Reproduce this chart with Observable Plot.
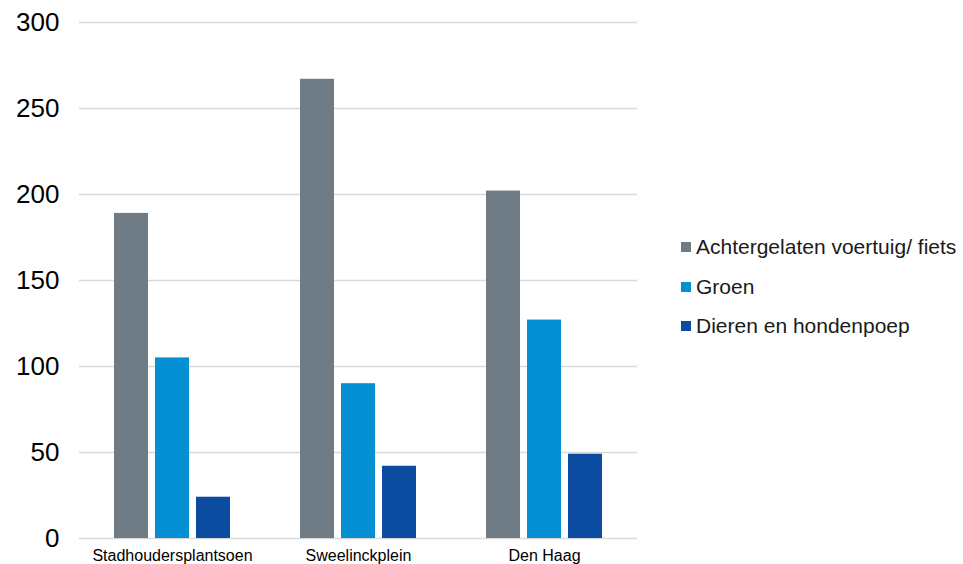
<!DOCTYPE html>
<html><head><meta charset="utf-8">
<script src="https://cdn.jsdelivr.net/npm/d3@7"></script>
<script src="https://cdn.jsdelivr.net/npm/@observablehq/plot@0.6"></script>
<style>
body{margin:0;background:#fff;font-family:"Liberation Sans",Arial,sans-serif}
#wrap{position:relative;width:963px;height:564px;overflow:hidden}
#legend{position:absolute;left:681px;top:227px}
.item{display:flex;align-items:center;height:39.7px;font-size:21px;color:#1a1a1a;white-space:nowrap}
.sw{width:10px;height:10px;margin-right:5px;flex:none}
</style></head>
<body><div id="wrap"><div id="chart"></div><div id="legend"></div></div>
<script>
const categories = ["Stadhoudersplantsoen", "Sweelinckplein", "Den Haag"];
const series = ["Achtergelaten voertuig/ fiets", "Groen", "Dieren en hondenpoep"];
const achtergelaten = [189, 267, 202];
const groen = [105, 90, 127];
const dieren = [24, 42, 49];
const colors = ["#6f7c85", "#0690d4", "#0b4ca1"];
const yTicks = [0, 50, 100, 150, 200, 250, 300];

const valuesBySeries = [achtergelaten, groen, dieren];
const data = categories.flatMap((c, i) => series.map((s, j) => ({cat: c, series: s, value: valuesBySeries[j][i]})));

const chart = Plot.plot({
  width: 963,
  height: 564,
  marginTop: 22,
  marginBottom: 26,
  marginLeft: 78,
  marginRight: 325,
  style: {fontFamily: '"Liberation Sans", Arial, sans-serif', background: "#fff", color: "#000"},
  fx: {domain: categories, paddingInner: 0, paddingOuter: 0, label: null},
  x: {domain: series, paddingInner: 0.17, paddingOuter: 0.8, axis: null},
  y: {domain: [0, 300], label: null},
  color: {domain: series, range: colors},
  marks: [
    Plot.ruleY(yTicks, {stroke: "#d9d9d9", strokeWidth: 1.5}),
    Plot.barY(data, {fx: "cat", x: "series", y: "value", fill: "series"}),
    Plot.axisY(yTicks, {tickSize: 0, tickPadding: 20, fontSize: 26, label: null, fill: "#000"}),
    Plot.axisFx({anchor: "bottom", tickSize: 0, tickPadding: 11, fontSize: 16, label: null, fill: "#000"})
  ]
});
document.getElementById("chart").appendChild(chart);

const legend = document.getElementById("legend");
series.forEach((s, i) => {
  const it = document.createElement("div");
  it.className = "item";
  const sw = document.createElement("span");
  sw.className = "sw";
  sw.style.background = colors[i];
  const t = document.createElement("span");
  t.textContent = s;
  it.appendChild(sw); it.appendChild(t);
  legend.appendChild(it);
});
</script>
</body></html>
